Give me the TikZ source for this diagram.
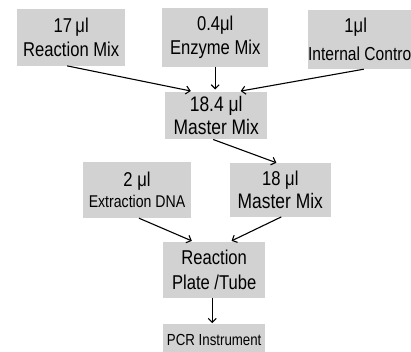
\documentclass[tikz,border=0pt]{standalone}
\usepackage{fontspec}
\setmainfont[FakeStretch=0.83]{Liberation Sans}
\usetikzlibrary{arrows.meta}
\definecolor{boxgray}{RGB}{210,210,210}
\tikzset{
  box/.style={rectangle, fill=boxgray, inner sep=0pt, align=center, text=black},
  arr/.style={-{Straight Barb[length=4pt,width=8pt]}, line width=1.1pt, black},
}
\newcommand{\fs}[2]{\fontsize{#1}{#2}\selectfont}
\begin{document}
\begin{tikzpicture}[x=1pt,y=-1pt]
\useasboundingbox (0,0) rectangle (411,351);
\node[box, minimum width=107.7pt, minimum height=57pt, font=\fs{20}{24.5}] (b1) at (71.2,37.2) {17\,μl\\Reaction Mix};
\node[box, minimum width=106.3pt, minimum height=58.4pt, font=\fs{20}{24.5}] (b2) at (215.2,37.5) {0.4μl\\Enzyme Mix};
\node[box, minimum width=102.7pt, minimum height=59pt, font=\fs{18.8}{27.5}] (b3) at (359.7,39.5) {{\fs{20}{27.5}1μl\hspace*{8pt}}\\Internal Contro};
\node[box, minimum width=102.3pt, minimum height=47.6pt, font=\fs{21}{23}] (b4) at (216.2,115.5) {18.4 μl\\Master Mix};
\node[box, minimum width=107.4pt, minimum height=56pt, font=\fs{17}{20.5}] (b5) at (137,190) {{\fs{20}{20.5}2 μl}\\Extraction DNA};
\node[box, minimum width=100.7pt, minimum height=53.4pt, font=\fs{21}{23.5}] (b6) at (280.3,190) {{\fs{20}{23.5}18 μl}\\Master Mix};
\node[box, minimum width=101.7pt, minimum height=56pt, font=\fs{20}{24.5}] (b7) at (214.2,269.7) {Reaction\\Plate /Tube};
\node[box, minimum width=101.7pt, minimum height=30.7pt, font=\fs{16}{20}] (b8) at (214.2,339.7) {PCR Instrument};
\draw[arr, shorten >=2.5pt] ([xshift=-4pt]b1.south) -- ([xshift=-23pt]b4.north);
\draw[arr, shorten >=2pt] (b2.south) -- (b2.south |- b4.north);
\draw[arr, shorten >=2.5pt] ([xshift=4pt]b3.south) -- ([xshift=22pt]b4.north);
\draw[arr, shorten >=1pt] ([xshift=-3pt]b4.south) -- ([xshift=-3pt]b6.north);
\draw[arr, shorten >=1.5pt] ([xshift=2pt]b5.south) -- ([xshift=-21pt]b7.north);
\draw[arr, shorten >=1.5pt] ([xshift=1pt]b6.south) -- ([xshift=16pt]b7.north);
\draw[arr, shorten >=1pt] ([xshift=-2pt]b7.south) -- ([xshift=-2pt]b8.north);
\end{tikzpicture}
\end{document}
